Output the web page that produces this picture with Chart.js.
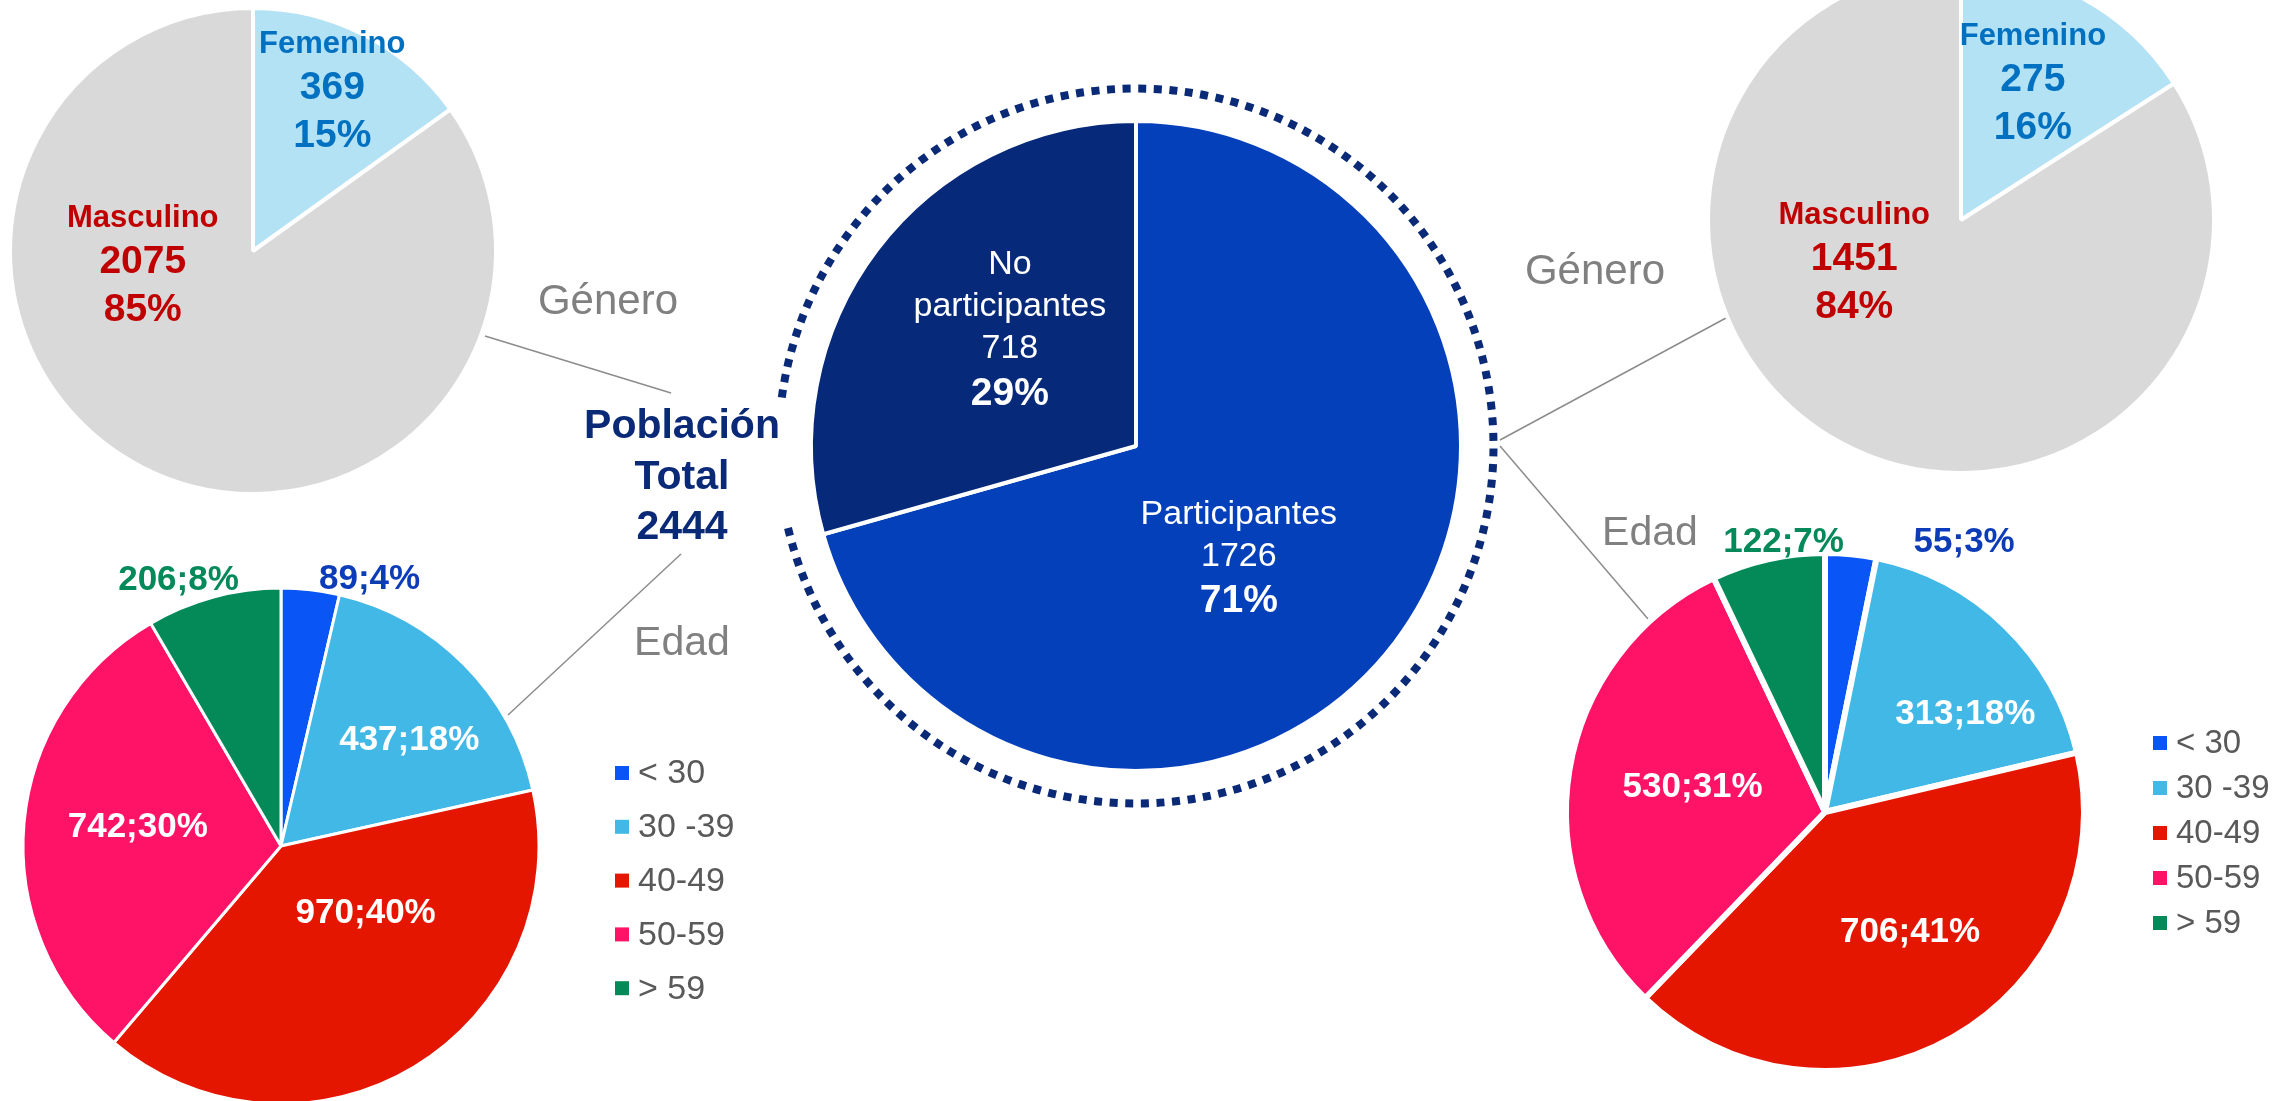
<!DOCTYPE html>
<html>
<head>
<meta charset="utf-8">
<script src="https://cdn.jsdelivr.net/npm/chart.js@4.4.1/dist/chart.umd.min.js"></script>
<style>
  body { margin: 0; background: #fff; width: 2275px; height: 1101px; overflow: hidden; position: relative; }
  canvas { position: absolute; left: 0; top: 0; }
</style>
</head>
<body>
<canvas id="gen-total" width="2275" height="1101"></canvas>
<canvas id="edad-total" width="2275" height="1101"></canvas>
<canvas id="part" width="2275" height="1101"></canvas>
<canvas id="gen-part" width="2275" height="1101"></canvas>
<canvas id="edad-part" width="2275" height="1101"></canvas>
<script>
// data
const partLabels = ['Participantes', 'No participantes'];
const partValues = [1726, 718];

const genderLabels = ['Femenino', 'Masculino'];
const genderTotal = [369, 2075];
const genderPart = [275, 1451];

const ageLabels = ['< 30', '30 -39', '40-49', '50-59', '> 59'];
const ageTotal = [89, 437, 970, 742, 206];
const agePart = [55, 313, 706, 530, 122];

const FONT = "'Liberation Sans', Arial, sans-serif";
const W = 2275, H = 1101;
const NAVY = '#0A2A78';
const GREY = '#808080';

const genderColors = ['#B4E2F5', '#D9D9D9'];
const genderText = ['#0070C0', '#C00000'];
const ageColors = ['#0A55F5', '#42B8E6', '#E41600', '#FE1367', '#038A58'];

// square chart area centred on (cx, cy)
function padFor(cx, cy) {
  const a = Math.min(cx, cy, W - cx, H - cy) - 2;
  return { left: cx - a, right: W - cx - a, top: cy - a, bottom: H - cy - a };
}

function labelPlugin(cfg) {
  return {
    id: 'sliceLabels',
    afterDatasetsDraw(chart) {
      const ctx = chart.ctx;
      const vals = chart.data.datasets[0].data;
      const total = vals.reduce((s, v) => s + v, 0);
      ctx.save();
      ctx.textAlign = 'center';
      ctx.textBaseline = 'middle';
      chart.getDatasetMeta(0).data.forEach((arc, i) => {
        const p = arc.getProps(['x', 'y', 'startAngle', 'endAngle', 'outerRadius'], true);
        const [shift, k] = cfg.place[i];
        const a = (p.startAngle + p.endAngle) / 2 + shift * Math.PI / 180;
        const x = p.x + Math.cos(a) * p.outerRadius * k;
        const y = p.y + Math.sin(a) * p.outerRadius * k;
        const pct = Math.round(vals[i] / total * 100) + '%';
        ctx.fillStyle = cfg.colors[i];
        cfg.lines(chart.data.labels[i], vals[i], pct).forEach(l => {
          ctx.font = l.font;
          ctx.fillText(l.text, x, y + l.dy);
        });
      });
      ctx.restore();
    }
  };
}

function legendPlugin(cfg) {
  return {
    id: 'ageLegend',
    afterDraw(chart) {
      const ctx = chart.ctx;
      const colors = chart.data.datasets[0].backgroundColor;
      ctx.save();
      ctx.font = cfg.size + 'px ' + FONT;
      ctx.textBaseline = 'middle';
      ctx.textAlign = 'left';
      chart.data.labels.forEach((lab, i) => {
        const y = cfg.y + i * cfg.gap;
        ctx.fillStyle = colors[i];
        ctx.fillRect(cfg.x, y - 7, 14, 14);
        ctx.fillStyle = '#595959';
        ctx.fillText(lab, cfg.x + 23, y + 1);
      });
      ctx.restore();
    }
  };
}

function makePie(id, labels, values, colors, cx, cy, r, bw, plugins) {
  return new Chart(document.getElementById(id), {
    type: 'pie',
    data: {
      labels: labels,
      datasets: [{ data: values, backgroundColor: colors, borderColor: '#ffffff', borderWidth: bw }]
    },
    options: {
      responsive: false,
      animation: false,
      events: [],
      radius: r,
      layout: { padding: padFor(cx, cy) },
      plugins: { legend: { display: false }, tooltip: { enabled: false } }
    },
    plugins: plugins
  });
}

const genderLines = (name, v, pct) => [
  { text: name, dy: -44, font: 'bold 31px ' + FONT },
  { text: String(v), dy: 0, font: 'bold 39px ' + FONT },
  { text: pct, dy: 48, font: 'bold 39px ' + FONT }
];
const ageLine = (name, v, pct) => [{ text: v + ';' + pct, dy: 0, font: 'bold 35px ' + FONT }];

// gender, all population
makePie('gen-total', genderLabels, genderTotal, genderColors, 253, 251, 243, 4, [
  labelPlugin({ colors: genderText, place: [[-1.2, 0.745], [57, 0.456]], lines: genderLines })
]);

// gender, participants
makePie('gen-part', genderLabels, genderPart, genderColors, 1961, 220, 253, 4, [
  labelPlugin({ colors: genderText, place: [[-1.4, 0.62], [41, 0.45]], lines: genderLines })
]);

// age, all population
makePie('edad-total', ageLabels, ageTotal, ageColors, 281, 846, 258, 3, [
  labelPlugin({
    colors: ['#0D3CB8', '#fff', '#fff', '#fff', '#03895A'],
    place: [[11.8, 1.09], [5.1, 0.645], [-20.3, 0.42], [2.5, 0.56], [-5.9, 1.105]],
    lines: ageLine
  }),
  legendPlugin({ x: 615, y: 773, gap: 53.8, size: 34 })
]);

// age, participants
makePie('edad-part', ageLabels, agePart, ageColors, 1825, 812, 259, 6, [
  labelPlugin({
    colors: ['#0D3CB8', '#fff', '#fff', '#fff', '#03895A'],
    place: [[21.6, 1.17], [11, 0.66], [-5.6, 0.57], [1.4, 0.52], [4, 1.055]],
    lines: ageLine
  }),
  legendPlugin({ x: 2153, y: 743, gap: 45, size: 33 })
]);

// decorations: dotted ring, connectors, captions
const decorations = {
  id: 'decorations',
  afterDraw(chart) {
    const ctx = chart.ctx;
    const arc = chart.getDatasetMeta(0).data[0];
    const p = arc.getProps(['x', 'y', 'outerRadius'], true);
    const deg = Math.PI / 180;
    ctx.save();
    ctx.strokeStyle = NAVY;
    ctx.lineWidth = 8;
    ctx.setLineDash([8, 7.6]);
    ctx.beginPath();
    ctx.arc(p.x, p.y, p.outerRadius * 1.1, -172.2 * deg, 167.9 * deg, false);
    ctx.stroke();
    ctx.setLineDash([]);

    ctx.strokeStyle = '#8C8C8C';
    ctx.lineWidth = 1.5;
    [[485, 336, 671, 393], [681, 554, 508, 715], [1500, 440, 1726, 318], [1500, 446, 1648, 619]].forEach(s => {
      ctx.beginPath();
      ctx.moveTo(s[0], s[1]);
      ctx.lineTo(s[2], s[3]);
      ctx.stroke();
    });

    ctx.textAlign = 'center';
    ctx.textBaseline = 'middle';
    ctx.fillStyle = GREY;
    ctx.font = '42px ' + FONT;
    ctx.fillText('Género', 608, 302);
    ctx.fillText('Género', 1595, 272);
    ctx.font = '41px ' + FONT;
    ctx.fillText('Edad', 682, 644);
    ctx.fillText('Edad', 1650, 534);

    const total = chart.data.datasets[0].data.reduce((s, v) => s + v, 0);
    ctx.fillStyle = NAVY;
    ctx.font = 'bold 41px ' + FONT;
    ctx.fillText('Población', 682, 427);
    ctx.fillText('Total', 682, 478);
    ctx.fillText(String(total), 682, 528);
    ctx.restore();
  }
};

const partLines = (name, v, pct) => {
  const words = name === 'No participantes' ? ['No', 'participantes'] : [name];
  const out = words.map((w, j) => ({ text: w, dy: -42 * (words.length - j), font: '34px ' + FONT }));
  out.push({ text: String(v), dy: 0, font: '34px ' + FONT });
  out.push({ text: pct, dy: 45, font: 'bold 39px ' + FONT });
  return out;
};

makePie('part', partLabels, partValues, ['#0540BB', '#06297A'], 1136, 446, 325, 4, [
  labelPlugin({ colors: ['#fff', '#fff'], place: [[10, 0.465], [0.5, 0.49]], lines: partLines }),
  decorations
]);
</script>
</body>
</html>
